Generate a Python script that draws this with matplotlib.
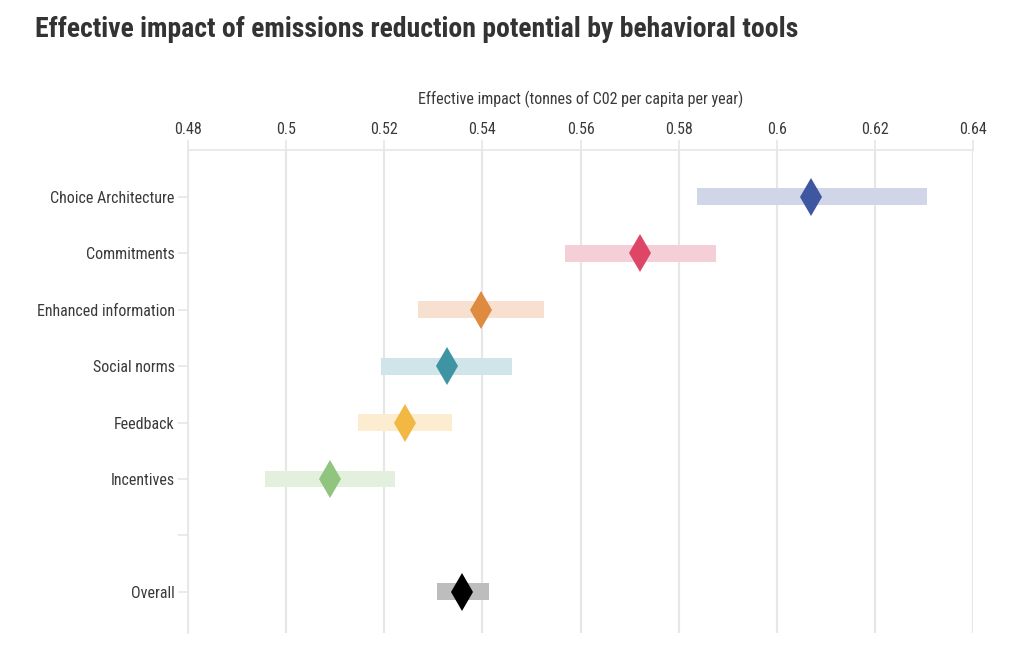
import matplotlib.pyplot as plt
import numpy as np

plt.rcParams['font.family'] = ['Roboto Condensed', 'Barlow Semi Condensed',
                               'Liberation Sans', 'DejaVu Sans']

tools = ['Choice Architecture', 'Commitments', 'Enhanced information',
         'Social norms', 'Feedback', 'Incentives', '', 'Overall']
estimate = [0.6070, 0.5721, 0.5397, 0.5328, 0.5242, 0.5089, np.nan, 0.5359]
ci_low   = [0.5837, 0.5568, 0.5269, 0.5193, 0.5147, 0.4957, np.nan, 0.5308]
ci_high  = [0.6306, 0.5876, 0.5526, 0.5460, 0.5338, 0.5222, np.nan, 0.5414]

marker_colors = ['#3f56a0', '#de4668', '#de8a3f', '#3e94a3', '#f3b843',
                 '#90c47f', 'none', '#000000']
bar_colors = ['#d0d5e8', '#f5cfd8', '#f7e0d0', '#cfe5e9', '#fcedd0',
              '#e3f0dd', 'none', '#bdbdbd']

TEXT = '#3a3a3a'
GRID = '#e6e6e6'

fig = plt.figure(figsize=(10.24, 6.51), dpi=100)
ax = fig.add_axes([0.1836, 0.0276, 0.7666, 0.742])

ypos = np.arange(len(tools))
for i in ypos:
    if np.isnan(estimate[i]):
        continue
    ax.barh(i, ci_high[i] - ci_low[i], left=ci_low[i], height=0.3,
            color=bar_colors[i], zorder=2)
    # thin diamond: height = sqrt(2) * markersize
    ax.plot(estimate[i], i, marker='d', markersize=19.5,
            color=marker_colors[i], markeredgewidth=0, zorder=3)

ax.set_xlim(0.48, 0.64)
ax.set_ylim(len(tools) - 1 + 0.73, -0.83)
ax.set_yticks(ypos)
ax.set_yticklabels(tools)
xt = np.arange(0.48, 0.6401, 0.02)
ax.set_xticks(xt)
ax.set_xticklabels([f'{v:.2f}'.rstrip('0') for v in xt])

ax.xaxis.tick_top()
ax.xaxis.set_label_position('top')
ax.set_xlabel('Effective impact (tonnes of C02 per capita per year)',
              fontsize=11.5, color=TEXT, labelpad=13)

ax.tick_params(axis='both', labelsize=11.5, colors=GRID, labelcolor=TEXT,
               length=7, width=1.2)
ax.tick_params(axis='x', pad=2)
ax.tick_params(axis='y', pad=2.5)

for s in ['right', 'bottom']:
    ax.spines[s].set_visible(False)
for s in ['top', 'left']:
    ax.spines[s].set_color(GRID)
    ax.spines[s].set_linewidth(1.2)

ax.grid(True, axis='x', color=GRID, linewidth=1.5, zorder=0)
ax.set_axisbelow(True)

fig.text(0.034, 0.955, 'Effective impact of emissions reduction potential by behavioral tools',
         fontsize=20, fontweight='bold', color='#333333', va='center', ha='left')

fig.savefig('out.png', dpi=100)
